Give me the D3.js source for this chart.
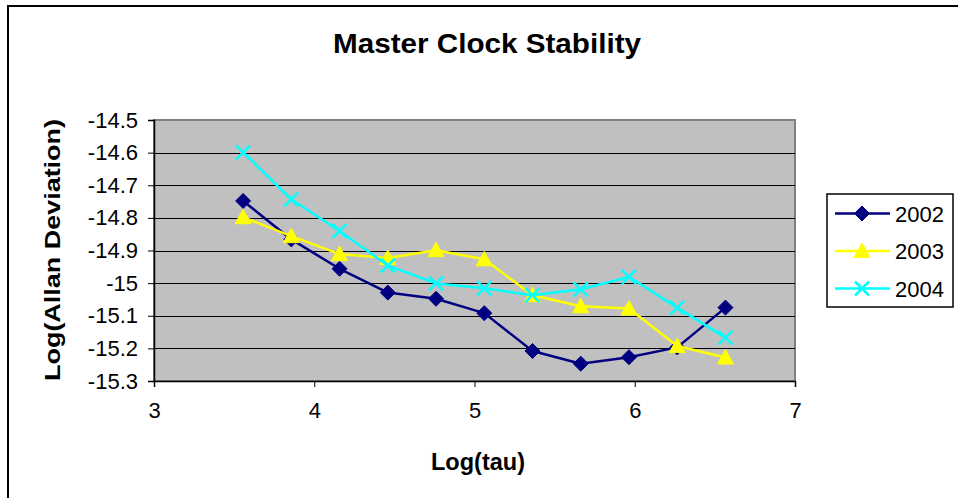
<!DOCTYPE html>
<html><head><meta charset="utf-8">
<script src="https://cdn.jsdelivr.net/npm/d3@7"></script>
<style>body{margin:0;background:#fff}svg{display:block;font-family:"Liberation Sans",Arial,sans-serif}</style>
</head><body>
<script>
const logTau = [3.556, 3.857, 4.158, 4.459, 4.760, 5.061, 5.362, 5.663, 5.964, 6.265, 6.566];
const y2002 = [-14.748, -14.866, -14.956, -15.029, -15.048, -15.092, -15.208, -15.247, -15.227, -15.197, -15.075];
const y2003 = [-14.798, -14.856, -14.911, -14.923, -14.899, -14.927, -15.037, -15.071, -15.078, -15.193, -15.228];
const y2004 = [-14.599, -14.743, -14.840, -14.946, -15.001, -15.016, -15.037, -15.019, -14.981, -15.075, -15.167];
const seriesNames = ["2002", "2003", "2004"];
const xTicks = [3, 4, 5, 6, 7];
const yTicks = [-14.5, -14.6, -14.7, -14.8, -14.9, -15, -15.1, -15.2, -15.3];

const W = 958, H = 498;
const FONT = '"Liberation Sans",Arial,sans-serif';
const svg = d3.select("body").append("svg").attr("width", W).attr("height", H);
svg.append("rect").attr("x", 8).attr("y", 6).attr("width", 960).attr("height", 500)
  .attr("fill", "#fff").attr("stroke", "#000").attr("stroke-width", 2);

const L = 154, R = 795, T = 120, B = 381;
const x = d3.scaleLinear().domain([3, 7]).range([L, R]);
const y = d3.scaleLinear().domain([-15.3, -14.5]).range([B, T]);

svg.append("rect").attr("x", L).attr("y", T).attr("width", R - L).attr("height", B - T)
  .attr("fill", "#c0c0c0").attr("stroke", "#808080").attr("stroke-width", 2);

// gridlines
svg.append("g").selectAll("line").data(yTicks.slice(1, -1)).join("line")
  .attr("x1", L).attr("x2", R).attr("y1", d => Math.round(y(d)) + 0.5).attr("y2", d => Math.round(y(d)) + 0.5)
  .attr("stroke", "#000").attr("stroke-width", 1);

// axes
const xAxis = svg.append("g").attr("transform", `translate(0,${B})`)
  .call(d3.axisBottom(x).tickValues(xTicks).tickFormat(d3.format("d")).tickSize(6).tickPadding(15));
const yAxis = svg.append("g").attr("transform", `translate(${L},0)`)
  .call(d3.axisLeft(y).tickValues(yTicks).tickFormat(d => String(d)).tickSize(6).tickPadding(10));
[xAxis, yAxis].forEach(a => {
  a.select(".domain").attr("stroke", "#000").attr("stroke-width", 1.5);
  a.selectAll(".tick line").attr("stroke", "#000");
  a.selectAll("text").attr("font-size", 22).attr("fill", "#000").attr("font-family", FONT);
});

const data = [
  {name: seriesNames[0], vals: y2002, color: "#000080", marker: "diamond"},
  {name: seriesNames[1], vals: y2003, color: "#ffff00", marker: "triangle"},
  {name: seriesNames[2], vals: y2004, color: "#00ffff", marker: "x"}
];

function drawMarker(g, type, color) {
  if (type === "diamond") {
    g.append("path").attr("d", "M0,-7.5L7.5,0L0,7.5L-7.5,0Z").attr("fill", color).attr("stroke", color).attr("stroke-width", 1);
  } else if (type === "triangle") {
    g.append("path").attr("d", "M0,-8L8,6.5L-8,6.5Z").attr("fill", color).attr("stroke", color).attr("stroke-width", 1);
  } else {
    g.append("path").attr("d", "M-7,-7L7,7M-7,7L7,-7").attr("stroke", color).attr("stroke-width", 2.5).attr("fill", "none");
  }
}

const line = d3.line().x((d, i) => x(logTau[i])).y(d => y(d));
data.forEach(s => {
  svg.append("path").datum(s.vals).attr("d", line).attr("fill", "none")
    .attr("stroke", s.color).attr("stroke-width", 2.5).attr("stroke-linejoin", "round");
  s.vals.forEach((v, i) => {
    const g = svg.append("g").attr("transform", `translate(${x(logTau[i])},${y(v)})`);
    drawMarker(g, s.marker, s.color);
  });
});

// titles
svg.append("text").attr("x", 487).attr("y", 53).attr("text-anchor", "middle")
  .attr("font-size", 28).attr("font-weight", "bold")
  .attr("textLength", 308).attr("lengthAdjust", "spacingAndGlyphs").text("Master Clock Stability");
svg.append("text").attr("x", 478).attr("y", 470).attr("text-anchor", "middle")
  .attr("font-size", 23).attr("font-weight", "bold")
  .attr("textLength", 94).attr("lengthAdjust", "spacingAndGlyphs").text("Log(tau)");
svg.append("text").attr("transform", "translate(60,250) rotate(-90)").attr("text-anchor", "middle")
  .attr("font-size", 22).attr("font-weight", "bold")
  .attr("textLength", 262).attr("lengthAdjust", "spacingAndGlyphs").text("Log(Allan Deviation)");

// legend
const lg = svg.append("g");
lg.append("rect").attr("x", 827).attr("y", 194).attr("width", 126).attr("height", 113)
  .attr("fill", "#fff").attr("stroke", "#000").attr("stroke-width", 1.5);
data.forEach((s, i) => {
  const ly = 213.5 + i * 37.5;
  lg.append("line").attr("x1", 835).attr("x2", 890).attr("y1", ly).attr("y2", ly)
    .attr("stroke", s.color).attr("stroke-width", 2.5);
  drawMarker(lg.append("g").attr("transform", `translate(862,${ly})`), s.marker, s.color);
  lg.append("text").attr("x", 895).attr("y", ly + 8).attr("font-size", 22).text(s.name);
});
</script>
</body></html>
